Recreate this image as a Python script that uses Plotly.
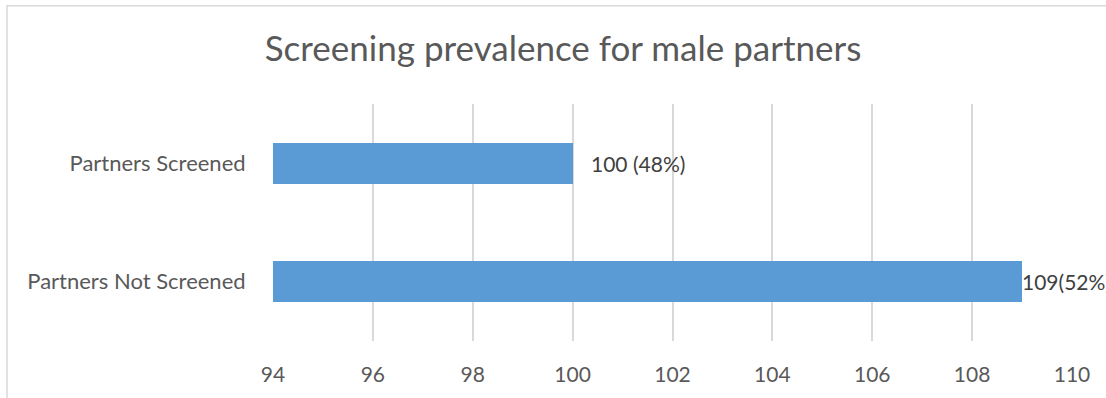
import plotly.graph_objects as go

categories = ["Partners Screened", "Partners Not Screened"]
values = [100, 109]
labels = ["100 (48%)", "109(52%)"]
x_ticks = [94, 96, 98, 100, 102, 104, 106, 108, 110]

FONT = "Lato"
GREY = "#595959"
# horizontal pixel offset of each data label from its bar end (styling)
label_shift = [16, -2]

fig = go.Figure()
fig.add_trace(go.Bar(
    y=categories, x=values, orientation="h",
    marker=dict(color="#5B9BD5", line=dict(width=0)),
    width=0.35,
    hoverinfo="skip",
))

for cat, val, txt, sh in zip(categories, values, labels, label_shift):
    fig.add_annotation(x=val, y=cat, text=txt, showarrow=False,
                       xanchor="left", yanchor="middle", xshift=sh,
                       font=dict(family=FONT, size=21, color="#404040"))

fig.update_layout(
    width=1106, height=398,
    margin=dict(l=273, r=34, t=104, b=55),
    paper_bgcolor="white", plot_bgcolor="white",
    showlegend=False,
    bargap=0,
    title=dict(text="Screening prevalence for male partners",
               x=563 / 1106, xref="container", xanchor="center",
               y=1 - 49 / 398, yref="container", yanchor="middle",
               font=dict(family=FONT, size=35, color=GREY)),
    font=dict(family=FONT, color=GREY),
    xaxis=dict(range=[94, 110], tickvals=x_ticks, showgrid=True,
               gridcolor="#D9D9D9", gridwidth=1.5, zeroline=False,
               showline=False, ticks="outside", ticklen=15,
               tickcolor="rgba(0,0,0,0)",
               tickfont=dict(family=FONT, size=21, color=GREY)),
    yaxis=dict(categoryorder="array", categoryarray=categories[::-1],
               showgrid=False, zeroline=False, showline=False,
               ticks="outside", ticklen=22, tickcolor="rgba(0,0,0,0)",
               tickfont=dict(family=FONT, size=22, color=GREY)),
    shapes=[dict(type="rect", xref="paper", yref="paper",
                 x0=(7 - 273) / 799, x1=2, y0=-1, y1=(343 - 5) / 239,
                 line=dict(color="#D9D9D9", width=1.5), layer="below")],
)

fig.write_html("out.html")
